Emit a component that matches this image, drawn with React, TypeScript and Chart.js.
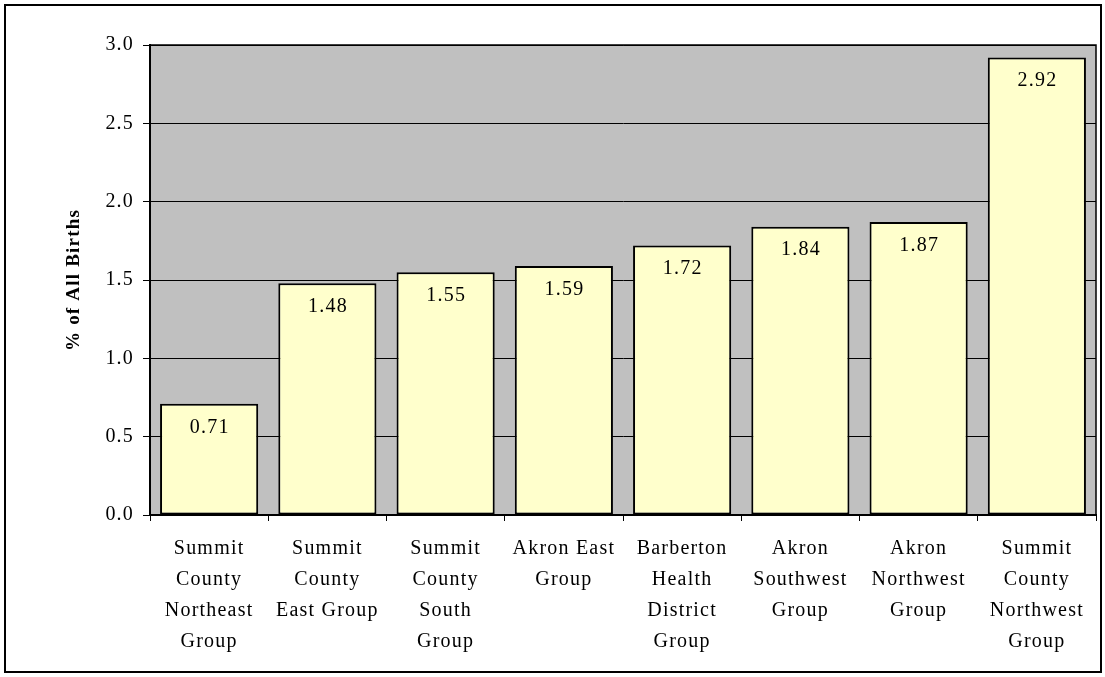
import React, { useEffect, useRef } from "react";
import { Chart, registerables } from "chart.js";

Chart.register(...registerables);

const categories: string[][] = [
  ["Summit", "County", "Northeast", "Group"],
  ["Summit", "County", "East Group"],
  ["Summit", "County", "South", "Group"],
  ["Akron East", "Group"],
  ["Barberton", "Health", "District", "Group"],
  ["Akron", "Southwest", "Group"],
  ["Akron", "Northwest", "Group"],
  ["Summit", "County", "Northwest", "Group"],
];

const values: number[] = [0.71, 1.48, 1.55, 1.59, 1.72, 1.84, 1.87, 2.92];

const yTitle = "% of All Births";

const FONT = "'Liberation Serif', 'Times New Roman', serif";

const plotPlugin = {
  id: "plotBg",
  beforeInit(chart: any) {
    try {
      chart.ctx.letterSpacing = "1.2px";
    } catch (e) {}
  },
  beforeDraw(chart: any) {
    const { ctx, chartArea } = chart;
    try {
      ctx.letterSpacing = "1.2px";
    } catch (e) {}
    ctx.save();
    ctx.fillStyle = "#C0C0C0";
    ctx.fillRect(chartArea.left, chartArea.top, chartArea.right - chartArea.left, chartArea.bottom - chartArea.top);
    ctx.restore();
  },
  beforeDatasetsDraw(chart: any) {
    const { ctx, chartArea } = chart;
    ctx.save();
    ctx.strokeStyle = "#000";
    ctx.lineWidth = 1.5;
    ctx.strokeRect(chartArea.left, chartArea.top, chartArea.right - chartArea.left, chartArea.bottom - chartArea.top);
    ctx.restore();
  },
  afterDatasetsDraw(chart: any) {
    const { ctx } = chart;
    const meta = chart.getDatasetMeta(0);
    ctx.save();
    ctx.fillStyle = "#000";
    ctx.font = `20px ${FONT}`;
    ctx.textAlign = "center";
    ctx.textBaseline = "middle";
    meta.data.forEach((bar: any, i: number) => {
      ctx.fillText(values[i].toFixed(2), bar.x + 0.6, bar.y + 23.5);
    });
    ctx.restore();
  },
};

export default function App() {
  const ref = useRef<HTMLCanvasElement | null>(null);
  useEffect(() => {
    if (!ref.current) return;
    const chart = new Chart(ref.current, {
      type: "bar",
      data: {
        labels: categories,
        datasets: [
          {
            data: values,
            backgroundColor: "#FFFFCC",
            borderColor: "#000",
            borderWidth: 2,
            borderSkipped: false,
            barPercentage: 0.83,
            categoryPercentage: 1.0,
          },
        ],
      },
      options: {
        responsive: false,
        animation: false,
        devicePixelRatio: 1,
        layout: { padding: { top: 45, right: 9, bottom: 0, left: 60 } },
        plugins: { legend: { display: false }, tooltip: { enabled: false } },
        scales: {
          x: {
            offset: true,
            grid: {
              offset: true,
              drawOnChartArea: false,
              drawTicks: true,
              tickLength: 6,
              tickColor: "#000",
              tickWidth: 1,
            },
            border: { color: "#000", width: 2 },
            ticks: {
              color: "#000",
              font: { family: FONT, size: 20, lineHeight: 1.55 },
              padding: 12,
              maxRotation: 0,
              autoSkip: false,
            },
            afterFit: (s: any) => {
              s.height = 162;
            },
          },
          y: {
            min: 0,
            max: 3,
            grid: {
              color: "#000",
              lineWidth: 1,
              drawTicks: true,
              tickLength: 7,
              tickColor: "#000",
            },
            border: { color: "#000", width: 2 },
            ticks: {
              stepSize: 0.5,
              color: "#000",
              font: { family: FONT, size: 20 },
              padding: 9,
              callback: (v: any) => Number(v).toFixed(1),
            },
            title: {
              display: true,
              text: yTitle,
              color: "#000",
              font: { family: FONT, size: 19, weight: "bold" },
              padding: { top: 3, bottom: 0 },
            },
            afterFit: (s: any) => {
              s.width = 90;
            },
          },
        },
      },
      plugins: [plotPlugin],
    });
    return () => chart.destroy();
  }, []);

  return (
    <div style={{ position: "absolute", left: 0, top: 0, width: 1105, height: 677, background: "#fff" }}>
      <canvas ref={ref} width={1105} height={677} style={{ position: "absolute", left: 0, top: 0, width: 1105, height: 677 }} />
      <div
        style={{
          position: "absolute",
          left: 4,
          top: 4,
          width: 1098,
          height: 669,
          border: "2px solid #000",
          boxSizing: "border-box",
          pointerEvents: "none",
        }}
      />
    </div>
  );
}
